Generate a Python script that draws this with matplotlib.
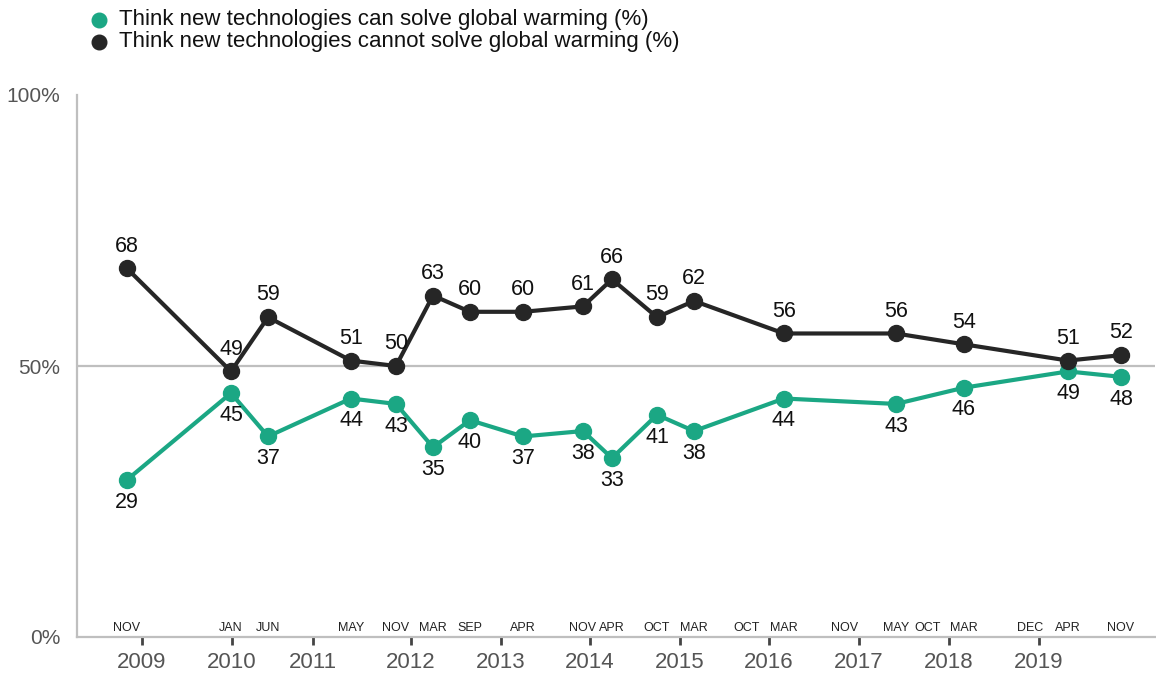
import numpy as np
import matplotlib
matplotlib.use("Agg")
import matplotlib.pyplot as plt
from matplotlib.lines import Line2D

# ---- data ----
months = ["NOV", "JAN", "JUN", "MAY", "NOV", "MAR", "SEP", "APR", "NOV", "APR",
          "OCT", "MAR", "OCT", "MAR", "NOV", "MAY", "OCT", "MAR", "DEC", "APR", "NOV"]
# position of each survey month along the (irregular) timeline
month_pos = [127, 231, 268, 351, 396, 433, 470, 523, 583, 612,
             657, 694, 747, 784, 845, 896, 928, 964, 1030, 1068, 1121]
can_solve = [29, 45, 37, 44, 43, 35, 40, 37, 38, 33,
             41, 38, None, 44, None, 43, None, 46, None, 49, 48]
cannot_solve = [68, 49, 59, 51, 50, 63, 60, 60, 61, 66,
                59, 62, None, 56, None, 56, None, 54, None, 51, 52]
years = ["2009", "2010", "2011", "2012", "2013", "2014", "2015", "2016", "2017", "2018", "2019"]
year_pos = [142, 232, 313, 411, 501, 590, 680, 769, 859, 949, 1039]
series_names = ["Think new technologies can solve global warming (%)",
                "Think new technologies cannot solve global warming (%)"]

GREEN = "#1ba784"
BLACK = "#262626"
GRAY = "#bfbfbf"
FONT = "Liberation Sans"
plt.rcParams['font.family'] = [FONT, 'DejaVu Sans']

W, H = 1156, 673
fig = plt.figure(figsize=(W / 100, H / 100), dpi=100)
ax_left, ax_right, ax_top, ax_bottom = 77, 1155, 95, 637
ax = fig.add_axes([ax_left / W, 1 - ax_bottom / H, (ax_right - ax_left) / W, (ax_bottom - ax_top) / H])
ax.set_xlim(ax_left, ax_right)
ax.set_ylim(0, 100)

for s in ["top", "right"]:
    ax.spines[s].set_visible(False)
for s in ["left", "bottom"]:
    ax.spines[s].set_color(GRAY)
    ax.spines[s].set_linewidth(1.6)
ax.axhline(50, color=GRAY, lw=1.6, zorder=1)

def draw(values, color, above):
    xs = [p for p, v in zip(month_pos, values) if v is not None]
    ys = [v for v in values if v is not None]
    ax.plot(xs, ys, color=color, lw=3, marker='o', ms=11.5, zorder=3, clip_on=False)
    for x, y in zip(xs, ys):
        ax.annotate(str(y), (x, y), xytext=(0, 16 if above else -16), textcoords='offset points',
                    ha='center', va='center', fontsize=15.5, color="#111111", zorder=4)

draw(can_solve, GREEN, above=False)
draw(cannot_solve, BLACK, above=True)

# y axis
ax.set_yticks([0, 50, 100])
ax.set_yticklabels(["0%", "50%", "100%"])
ax.tick_params(axis='y', length=0, pad=12, labelsize=15, labelcolor="#555555")

# x axis: year ticks
ax.set_xticks(year_pos)
ax.set_xticklabels(years)
ax.tick_params(axis='x', length=6, width=2, color="#444444", pad=5, labelsize=16, labelcolor="#555555")

# month labels inside the plot, above the axis
for m, p in zip(months, month_pos):
    ax.annotate(m, (p, 0), xytext=(0, 6.5), textcoords='offset points', ha='center', va='center',
                fontsize=9, color="#222222")

# legend
for i, (name, color) in enumerate(zip(series_names, [GREEN, BLACK])):
    yy = 1 - (20 + 22 * i) / H
    fig.add_artist(Line2D([99 / W], [yy], marker='o', ms=10.5, color=color, transform=fig.transFigure, linestyle='none'))
    fig.text(119 / W, yy, name, va='center', ha='left', fontsize=16, color="#111111")

fig.savefig("out.png", dpi=100)
